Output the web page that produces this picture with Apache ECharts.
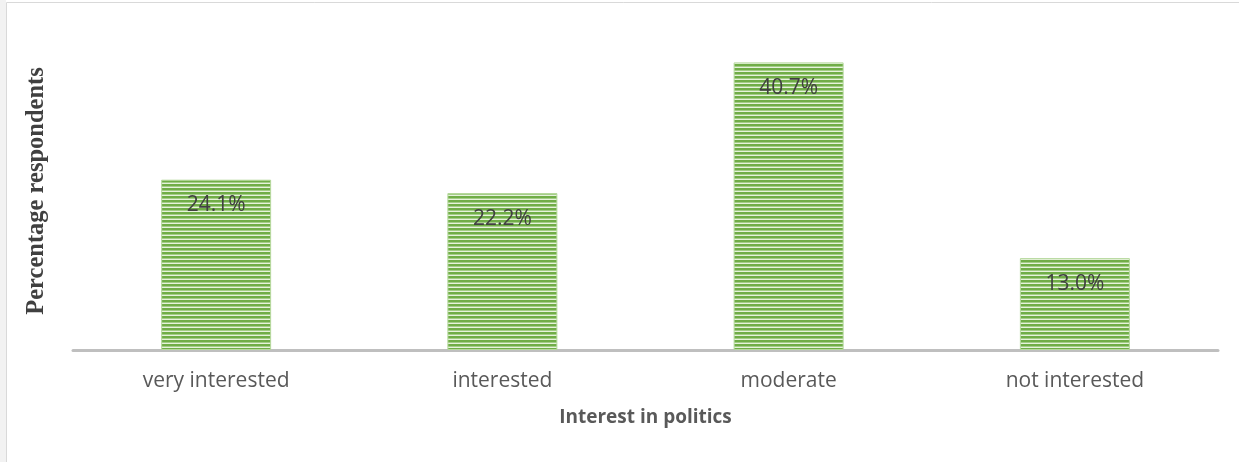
<!DOCTYPE html>
<html>
<head>
<meta charset="utf-8">
<script src="https://cdn.jsdelivr.net/npm/echarts@6/dist/echarts.min.js"></script>
<style>
html,body{margin:0;padding:0;background:#fff;}
#c{width:1239px;height:462px;}
</style>
</head>
<body>
<div id="c"></div>
<script>
var categories = ['very interested', 'interested', 'moderate', 'not interested'];
var values = [24.1, 22.2, 40.7, 13.0];
var labels = ['24.1%', '22.2%', '40.7%', '13.0%'];

function stripePattern() {
  var cv = document.createElement('canvas');
  cv.width = 4; cv.height = 4;
  var ctx = cv.getContext('2d');
  ctx.fillStyle = '#70ad47';
  ctx.fillRect(0, 0, 4, 2);
  ctx.fillStyle = '#a3cd86';
  ctx.fillRect(0, 2, 4, 1);
  ctx.fillStyle = '#e6f2dc';
  ctx.fillRect(0, 3, 4, 1);
  return cv;
}

var chart = echarts.init(document.getElementById('c'));
chart.setOption({
  animation: false,
  graphic: [
    {type: 'rect', left: 0, top: 0, shape: {x: 0, y: 0, width: 6, height: 462}, style: {fill: '#f2f2f2'}},
    {type: 'rect', shape: {x: 6.5, y: 2.5, width: 1240, height: 470}, style: {fill: 'none', stroke: '#d9d9d9', lineWidth: 1}}
  ],
  grid: {left: 73, right: 21, top: 32, bottom: 112},
  xAxis: {
    type: 'category',
    data: categories,
    axisLine: {lineStyle: {color: '#bfbfbf', width: 3}},
    axisTick: {show: false},
    axisLabel: {color: '#595959', fontFamily: 'Open Sans', fontSize: 21, margin: 21},
    name: 'Interest in politics',
    nameLocation: 'middle',
    nameGap: 58,
    nameTextStyle: {color: '#595959', fontFamily: 'Open Sans', fontWeight: 'bold', fontSize: 19}
  },
  yAxis: {
    type: 'value',
    min: 0, max: 45,
    show: true,
    axisLine: {show: false},
    axisTick: {show: false},
    axisLabel: {show: false},
    splitLine: {show: false},
    name: 'Percentage respondents',
    nameLocation: 'middle',
    nameGap: 24,
    nameRotate: 90,
    nameTextStyle: {color: '#404040', fontFamily: 'Liberation Serif', fontWeight: 'bold', fontSize: 24.5}
  },
  series: [{
    type: 'bar',
    data: values,
    barWidth: 110,
    itemStyle: {color: {image: stripePattern(), repeat: 'repeat'}, borderColor: '#b5d99c', borderWidth: 1},
    label: {
      show: true,
      position: 'insideTop',
      distance: 15,
      color: '#404040',
      fontFamily: 'Open Sans',
      fontSize: 21,
      formatter: function (p) { return labels[p.dataIndex]; }
    }
  }]
});
</script>
</body>
</html>
